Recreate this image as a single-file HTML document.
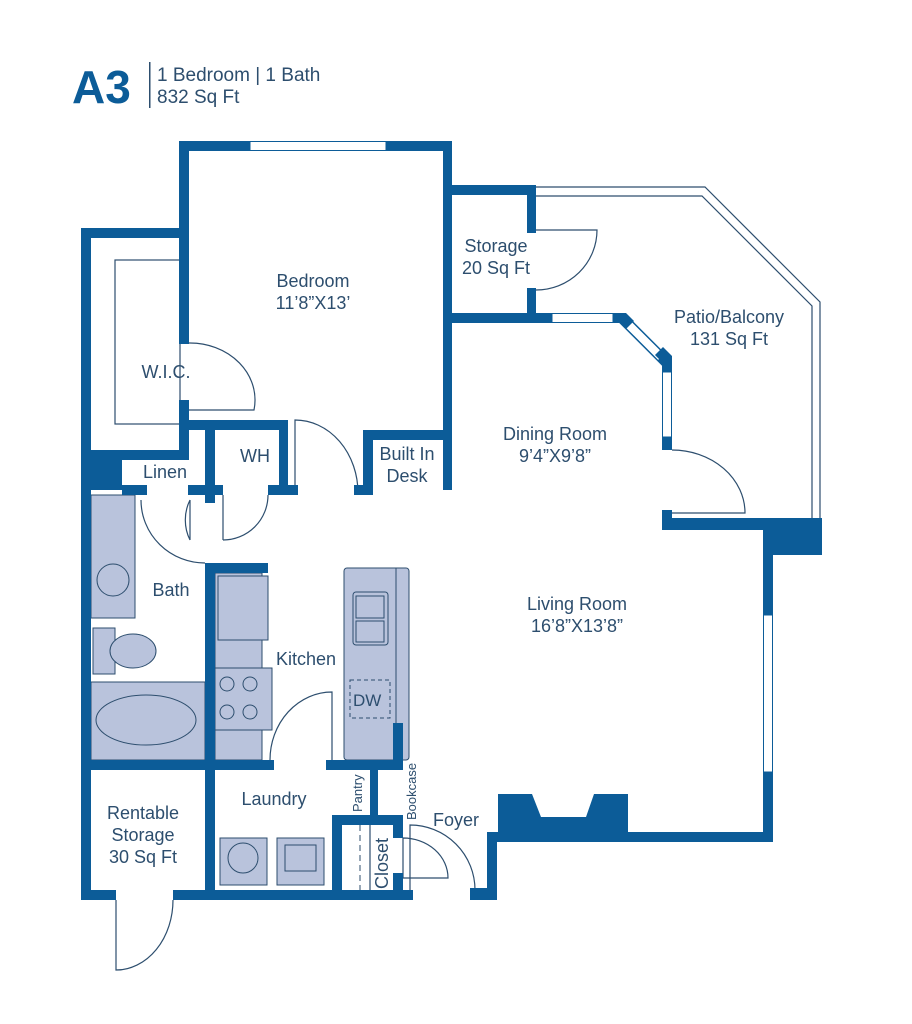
<!DOCTYPE html>
<html><head><style>
html,body{margin:0;padding:0;background:#fff}
svg{display:block}
text{font-family:"Liberation Sans",sans-serif;fill:#2d4e6e}
</style></head><body>
<svg width="912" height="1024" viewBox="0 0 912 1024">
<text x="72" y="103" font-size="46" font-weight="bold" style="fill:#0c5c98">A3</text>
<rect x="149" y="62" width="1.5" height="46" fill="#2d4e6e"/>
<text x="157" y="81" font-size="19">1 Bedroom | 1 Bath</text>
<text x="157" y="103" font-size="19">832 Sq Ft</text>

<!-- fixtures -->
<g fill="#b9c3dc" stroke="#2d4e6e" stroke-width="1">
<rect x="91" y="495" width="44" height="123"/>
<ellipse cx="113" cy="580" rx="16" ry="16"/>
<rect x="93" y="628" width="22" height="46"/>
<ellipse cx="133" cy="651" rx="23" ry="17"/>
<rect x="91" y="682" width="114" height="78"/>
<ellipse cx="146" cy="720" rx="50" ry="25"/>
<rect x="215" y="573" width="47" height="187"/>
<rect x="218" y="576" width="50" height="64"/>
<rect x="215" y="668" width="57" height="62"/>
<circle cx="227" cy="684" r="7"/><circle cx="250" cy="684" r="7"/>
<circle cx="227" cy="712" r="7"/><circle cx="250" cy="712" r="7"/>
<rect x="344" y="568" width="65" height="192" rx="3"/>
<line x1="396" y1="568" x2="396" y2="723"/>
<rect x="353" y="592" width="35" height="53" rx="3"/>
<rect x="356" y="596" width="28" height="22"/><rect x="356" y="621" width="28" height="21"/>
<rect x="220" y="838" width="47" height="47"/><circle cx="243" cy="858" r="15"/>
<rect x="277" y="838" width="47" height="47"/><rect x="285" y="845" width="31" height="26"/>
</g>
<rect x="350" y="680" width="40" height="38" fill="none" stroke="#2d4e6e" stroke-dasharray="4,3"/>
<text x="353" y="706" font-size="17">DW</text>

<g fill="none" stroke="#2d4e6e" stroke-width="1.2">
<rect x="115" y="260" width="65" height="164"/>
<path d="M189 343 A65 57 0 0 1 254 410 L189 410"/>
<path d="M295 493 L295 420 A63 73 0 0 1 358 493"/>
<path d="M536 230 L597 230 A61 60 0 0 1 536 290"/>
<path d="M672 450 A73 63 0 0 1 745 513 L672 513"/>
<path d="M536 187 L705 187 L820 302 L820 528"/>
<path d="M536 196 L702 196 L812 306 L812 528"/>
<path d="M141 500 A64 63 0 0 0 205 563"/>
<path d="M190 500 L190 540 M190 500 A35 40 0 0 0 190 540"/>
<path d="M223 495 L223 540 M268 495 A45 45 0 0 1 223 540"/>
<path d="M332 760 L332 692 A62 68 0 0 0 270 760"/>
<path d="M403 838 L403 878 L448 878 A45 40 0 0 0 403 838"/>
<path d="M410 890 L410 825 A65 65 0 0 1 475 890"/>
<path d="M116 900 L116 970 A57 70 0 0 0 173 900"/>
<line x1="370" y1="825" x2="370" y2="890"/>
</g>
<line x1="360" y1="825" x2="360" y2="890" stroke="#2d4e6e" stroke-dasharray="6,4"/>

<g fill="#0c5c98">
<rect x="179" y="141" width="71" height="10"/><rect x="386" y="141" width="66" height="10"/>
<rect x="179" y="141" width="10" height="203"/>
<rect x="179" y="400" width="10" height="58"/>
<rect x="443" y="141" width="9" height="349"/>
<rect x="81" y="228" width="108" height="10"/>
<rect x="81" y="228" width="10" height="672"/>
<rect x="81" y="450" width="41" height="40"/>
<rect x="91" y="450" width="98" height="10"/>
<rect x="122" y="485" width="25" height="10"/><rect x="188" y="485" width="35" height="10"/>
<rect x="180" y="420" width="108" height="10"/>
<rect x="205" y="420" width="10" height="83"/>
<rect x="279" y="420" width="9" height="75"/>
<rect x="268" y="485" width="30" height="10"/>
<rect x="363" y="430" width="89" height="10"/><rect x="363" y="430" width="10" height="65"/>
<rect x="354" y="485" width="19" height="10"/>
<rect x="443" y="185" width="93" height="10"/>
<rect x="527" y="185" width="9" height="48"/><rect x="527" y="288" width="9" height="35"/>
<rect x="443" y="313" width="109" height="10"/>
</g>
<!-- bay diagonal window -->
<line x1="622" y1="318" x2="667" y2="363" stroke="#0c5c98" stroke-width="11"/>
<line x1="628" y1="324" x2="661" y2="357" stroke="#fff" stroke-width="8"/>
<g fill="#0c5c98">
<path d="M613 313 L626 313 L634 321 L626 329 L620 323 L613 323 Z"/>
<path d="M655 355 L663 347 L672 356 L672 372 L662 372 L662 362 Z"/>
<rect x="662" y="437" width="10" height="13"/>
<rect x="662" y="510" width="10" height="20"/>
<rect x="662" y="518" width="160" height="12"/>
<rect x="763" y="518" width="59" height="37"/>
<rect x="763" y="518" width="10" height="97"/><rect x="763" y="772" width="10" height="70"/>
<rect x="487" y="832" width="286" height="10"/>
<path d="M498 794 L532 794 L541 817 L586 817 L594 794 L628 794 L628 842 L498 842 Z"/>
<rect x="487" y="832" width="10" height="68"/><rect x="470" y="888" width="27" height="12"/>
<rect x="81" y="890" width="35" height="10"/><rect x="173" y="890" width="240" height="10"/>
<rect x="205" y="563" width="10" height="337"/>
<rect x="205" y="563" width="63" height="10"/>
<rect x="81" y="760" width="193" height="10"/><rect x="326" y="760" width="77" height="10"/>
<rect x="393" y="723" width="10" height="47"/>
<rect x="370" y="770" width="8" height="50"/>
<rect x="332" y="815" width="71" height="10"/>
<rect x="332" y="815" width="10" height="85"/>
<rect x="393" y="815" width="10" height="23"/><rect x="393" y="873" width="10" height="27"/>
</g>
<g fill="#fff" stroke="#0c5c98" stroke-width="1">
<rect x="250" y="141.5" width="136" height="9"/>
<rect x="552" y="313.5" width="61" height="9"/>
<rect x="662.5" y="372" width="9" height="65"/>
<rect x="763.5" y="615" width="9" height="157"/>
</g>

<g font-size="18" text-anchor="middle">
<text x="313" y="287">Bedroom</text><text x="313" y="309">11’8”X13’</text>
<text x="166" y="378">W.I.C.</text>
<text x="255" y="462">WH</text>
<text x="165" y="478">Linen</text>
<text x="407" y="460">Built In</text><text x="407" y="482">Desk</text>
<text x="496" y="252">Storage</text><text x="496" y="274">20 Sq Ft</text>
<text x="729" y="323">Patio/Balcony</text><text x="729" y="345">131 Sq Ft</text>
<text x="555" y="440">Dining Room</text><text x="555" y="462">9’4”X9’8”</text>
<text x="577" y="610">Living Room</text><text x="577" y="632">16’8”X13’8”</text>
<text x="171" y="596">Bath</text>
<text x="306" y="665">Kitchen</text>
<text x="274" y="805">Laundry</text>
<text x="143" y="819">Rentable</text><text x="143" y="841">Storage</text><text x="143" y="863">30 Sq Ft</text>
<text x="456" y="826">Foyer</text>
</g>
<text font-size="13" transform="translate(362,812) rotate(-90)">Pantry</text>
<text font-size="13" transform="translate(416,820) rotate(-90)">Bookcase</text>
<text font-size="18" transform="translate(388,889) rotate(-90)">Closet</text>
</svg>
</body></html>
